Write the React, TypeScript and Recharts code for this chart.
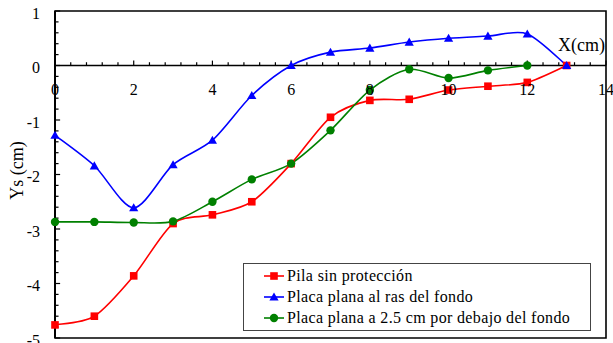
import {
  LineChart,
  Line,
  XAxis,
  YAxis,
  Legend,
  ReferenceLine,
  ReferenceDot,
  ReferenceArea,
} from "recharts";

const FONT = '"Liberation Serif", "Times New Roman", Times, "DejaVu Serif", serif';

const X_CM = [0, 1, 2, 3, 4, 5, 6, 7, 8, 9, 10, 11, 12, 13];
const PILA_SIN_PROTECCION = [
  -4.76, -4.6, -3.86, -2.9, -2.74, -2.5, -1.8, -0.95, -0.64, -0.62, -0.45,
  -0.38, -0.31, 0,
];
const PLACA_AL_RAS = [
  -1.28, -1.84, -2.61, -1.82, -1.37, -0.55, 0, 0.245, 0.32, 0.43, 0.5, 0.54,
  0.58, 0,
];
const PLACA_DEBAJO = [
  -2.87, -2.87, -2.88, -2.86, -2.5, -2.09, -1.8, -1.19, -0.45, -0.07, -0.23,
  -0.09, 0, null,
];

const X_LABELS = [0, 2, 4, 6, 8, 10, 12, 14];
const Y_LABELS = [-5, -4, -3, -2, -1, 0, 1];
const X_MINOR = Array.from({ length: 36 }, (_, i) => +(i * 0.4).toFixed(1));
const Y_MINOR = Array.from({ length: 31 }, (_, i) => +(-5 + i * 0.2).toFixed(1));

const data = X_CM.map((x, i) => ({
  x,
  pila: PILA_SIN_PROTECCION[i],
  ras: PLACA_AL_RAS[i],
  debajo: PLACA_DEBAJO[i],
}));

const SERIES = [
  { key: "pila", name: "Pila sin protección", color: "#FF0000", shape: "square" },
  { key: "ras", name: "Placa plana al ras del fondo", color: "#0000FF", shape: "triangle" },
  { key: "debajo", name: "Placa plana a 2.5 cm por debajo del fondo", color: "#008000", shape: "circle" },
];

// Catmull-Rom style spline with a little tension, like a spreadsheet "smoothed line"
const smoothCurve = (context: any) => {
  let xs: number[] = [];
  let ys: number[] = [];
  const k = 1 / 7;
  return {
    areaStart() {},
    areaEnd() {},
    lineStart() {
      xs = [];
      ys = [];
    },
    point(x: number, y: number) {
      xs.push(+x);
      ys.push(+y);
    },
    lineEnd() {
      const n = xs.length;
      if (!n) return;
      context.moveTo(xs[0], ys[0]);
      for (let i = 0; i < n - 1; i++) {
        const a = Math.max(i - 1, 0);
        const b = i + 1;
        const c = Math.min(i + 2, n - 1);
        context.bezierCurveTo(
          xs[i] + (xs[b] - xs[a]) * k,
          ys[i] + (ys[b] - ys[a]) * k,
          xs[b] - (xs[c] - xs[i]) * k,
          ys[b] - (ys[c] - ys[i]) * k,
          xs[b],
          ys[b]
        );
      }
    },
  };
};

function Marker({ shape, cx, cy, color }: { shape: string; cx: number; cy: number; color: string }) {
  if (shape === "square") {
    return <rect x={cx - 3.8} y={cy - 3.8} width={7.6} height={7.6} fill={color} />;
  }
  if (shape === "triangle") {
    return (
      <polygon
        points={`${cx},${cy - 4.5} ${cx + 4.6},${cy + 3.6} ${cx - 4.6},${cy + 3.6}`}
        fill={color}
      />
    );
  }
  return <circle cx={cx} cy={cy} r={4.2} fill={color} />;
}

function LegendBox() {
  return (
    <div
      style={{
        width: 346,
        height: 65,
        border: "1px solid #444",
        background: "#fff",
        boxSizing: "content-box",
        paddingTop: 1,
        fontFamily: FONT,
        fontSize: 16,
        letterSpacing: 0.35,
        color: "#000",
      }}
    >
      {SERIES.map((s) => (
        <div
          key={s.key}
          style={{ display: "flex", alignItems: "center", height: 21, paddingLeft: 20 }}
        >
          <svg width={21} height={12} style={{ marginRight: 2 }}>
            <line x1={0} y1={6} x2={20} y2={6} stroke={s.color} strokeWidth={1.6} />
            <Marker shape={s.shape} cx={10} cy={6} color={s.color} />
          </svg>
          <span style={{ whiteSpace: "nowrap" }}>{s.name}</span>
        </div>
      ))}
    </div>
  );
}

export default function App() {
  return (
    <div style={{ position: "absolute", left: 0, top: 0 }}>
      <LineChart
        width={613}
        height={343}
        data={data}
        margin={{ top: 11, right: 7, bottom: 5, left: 8 }}
        style={{ fontFamily: FONT }}
      >
        <XAxis type="number" dataKey="x" domain={[0, 14]} hide />
        <YAxis
          type="number"
          domain={[-5, 1]}
          ticks={Y_LABELS}
          interval={0}
          width={47}
          tickLine={false}
          tickSize={6}
          tickMargin={9}
          axisLine={{ stroke: "#000", strokeWidth: 2 }}
          tick={{ fill: "#000", fontSize: 16, fontFamily: FONT, dy: 2 }}
          label={(props: any) => {
            const vb = props.viewBox;
            const cx = vb.x + 15;
            const cy = vb.y + vb.height / 2 - 4;
            return (
              <text
                x={cx}
                y={cy}
                transform={`rotate(-90 ${cx} ${cy})`}
                textAnchor="middle"
                fontSize={18}
                fontFamily={FONT}
                fill="#000"
              >
                Ys (cm)
              </text>
            );
          }}
        />
        <ReferenceArea
          x1={0}
          x2={14}
          y1={-5}
          y2={1}
          fill="none"
          stroke="#000"
          strokeWidth={1.6}
          ifOverflow="extendDomain"
        />
        <ReferenceLine
          y={0}
          stroke="#000"
          strokeWidth={1.5}
          label={(props: any) => {
            const vb = props.viewBox;
            return (
              <text
                x={vb.x + vb.width - 1}
                y={vb.y - 15}
                textAnchor="end"
                fontSize={18}
                fontFamily={FONT}
                fill="#000"
              >
                X(cm)
              </text>
            );
          }}
        />
        {X_MINOR.map((v) => (
          <ReferenceLine
            key={`xt-${v}`}
            segment={[
              { x: v, y: 0 },
              { x: v, y: v % 2 === 0 ? 0.09 : 0.06 },
            ]}
            stroke="#000"
            strokeWidth={1.2}
          />
        ))}
        {Y_MINOR.map((v) => (
          <ReferenceLine
            key={`yt-${v}`}
            segment={[
              { x: 0, y: v },
              { x: Number.isInteger(v) ? 0.13 : 0.09, y: v },
            ]}
            stroke="#000"
            strokeWidth={1.2}
          />
        ))}
        {X_LABELS.map((v) => (
          <ReferenceDot
            key={`xl-${v}`}
            x={v}
            y={0}
            r={0}
            stroke="none"
            label={{
              value: String(v),
              position: "bottom",
              offset: 18,
              fontSize: 16,
              fontFamily: FONT,
              fill: "#000",
            }}
          />
        ))}
        {SERIES.map((s) => (
          <Line
            key={s.key}
            dataKey={s.key}
            name={s.name}
            type={smoothCurve as any}
            stroke={s.color}
            strokeWidth={1.6}
            isAnimationActive={false}
            dot={(p: any) =>
              p.cy == null ? (
                <g key={`${s.key}-${p.index}`} />
              ) : (
                <Marker key={`${s.key}-${p.index}`} shape={s.shape} cx={p.cx} cy={p.cy} color={s.color} />
              )
            }
            activeDot={false}
          />
        ))}
        <Legend
          layout="vertical"
          align="center"
          verticalAlign="middle"
          content={<LegendBox />}
          wrapperStyle={{ left: 243, top: 263, width: 348 }}
        />
      </LineChart>
    </div>
  );
}
